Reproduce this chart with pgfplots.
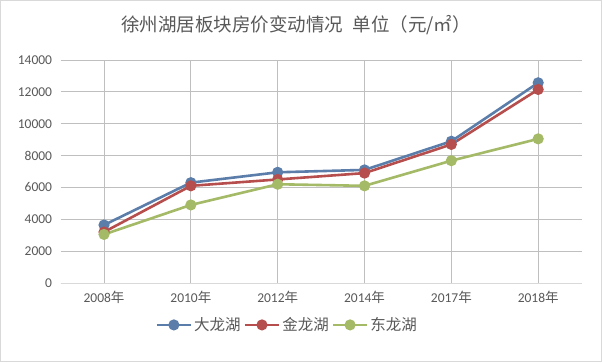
\documentclass[border=0pt]{standalone}
\usepackage{pgfplots}
\pgfplotsset{compat=1.18}
\usepackage{fontspec}
\setmainfont{Carlito}
\newfontfamily\cjk{Noto Sans CJK SC}
\definecolor{cblue}{HTML}{5B7DAA}
\definecolor{cred}{HTML}{B54E4C}
\definecolor{cgreen}{HTML}{A4BA66}
\definecolor{txt}{HTML}{595959}
\definecolor{grid}{HTML}{D9D9D9}
\begin{document}
\begin{tikzpicture}
\useasboundingbox[fill=white] (0,0) rectangle (602pt,362pt);
\draw[grid, line width=0.8pt] (0.5pt,0.5pt) rectangle (601.5pt,361.5pt);
\node[text=txt, font=\cjk\fontsize{18.5}{22}\selectfont] at (296pt,337pt) {徐州湖居板块房价变动情况\hspace{0.5em}单位（元/㎡）};
\begin{axis}[
  at={(60.6pt,79pt)}, anchor=south west,
  scale only axis, width=521pt, height=223pt,
  xmin=-0.5, xmax=5.5, ymin=0, ymax=14000,
  xtick={0,1,2,3,4,5},
  xticklabels={2008{\cjk 年},2010{\cjk 年},2012{\cjk 年},2014{\cjk 年},2017{\cjk 年},2018{\cjk 年}},
  ytick={0,2000,4000,6000,8000,10000,12000,14000},
  /pgf/number format/assume math mode=true,
  /pgf/number format/1000 sep={},
  scaled y ticks=false,
  ymajorgrids, grid style={grid, line width=0.8pt},
  axis line style={draw=none},
  axis x line*=bottom,
  x axis line style={draw=grid, line width=0.8pt},
  major tick length=0pt,
  tick label style={text=txt, font=\fontsize{13.5}{15}\selectfont},
  yticklabel style={xshift=-5pt},
  xticklabel style={yshift=-5pt},
  legend columns=3,
  legend style={at={(0.435,-0.188)}, anchor=center, draw=none, fill=none,
    font=\cjk\fontsize{15.5}{18}\selectfont, text=txt,
    /tikz/every even column/.append style={column sep=1pt}},
  legend image code/.code={
    \draw[#1, mark=none] (0pt,0pt) -- (34pt,0pt);
    \draw[#1, only marks] plot coordinates {(17pt,0pt)};
  },
  every axis plot/.append style={line width=2.6pt, mark=*, mark size=4.2pt},
]
\addplot[cblue, mark options={fill=cblue}] coordinates {(0,3640) (1,6300) (2,6950) (3,7100) (4,8900) (5,12570)};
\addplot[cred, mark options={fill=cred}] coordinates {(0,3200) (1,6100) (2,6500) (3,6900) (4,8700) (5,12150)};
\addplot[cgreen, mark options={fill=cgreen}] coordinates {(0,3050) (1,4900) (2,6200) (3,6100) (4,7680) (5,9050)};
\legend{大龙湖,金龙湖,东龙湖}
\end{axis}
\end{tikzpicture}
\end{document}
